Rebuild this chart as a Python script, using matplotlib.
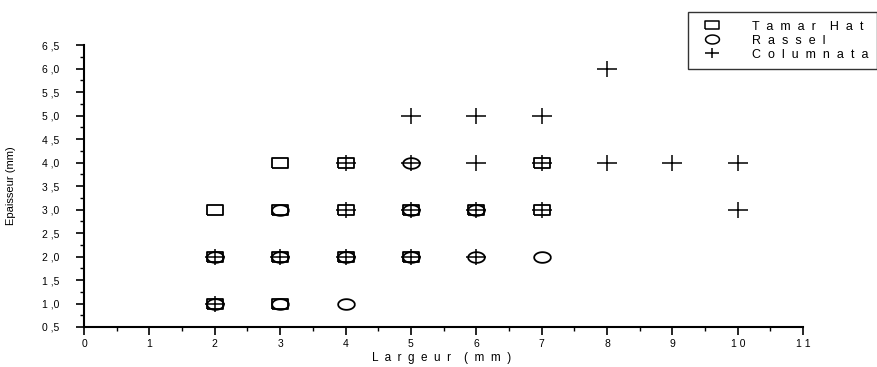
import numpy as np
import matplotlib.pyplot as plt
from matplotlib.path import Path
from matplotlib.ticker import MultipleLocator, FixedLocator

plt.rcParams['font.family'] = ['Liberation Sans', 'DejaVu Sans']

# Tamar Hat
tamar_x = [2, 3, 2, 3, 4, 5, 2, 3, 4, 5, 6, 7, 3, 4, 7]
tamar_y = [1, 1, 2, 2, 2, 2, 3, 3, 3, 3, 3, 3, 4, 4, 4]
# Rassel
rassel_x = [2, 3, 4, 2, 3, 4, 5, 6, 7, 3, 5, 6, 5]
rassel_y = [1, 1, 1, 2, 2, 2, 2, 2, 2, 3, 3, 3, 4]
# Columnata
colum_x = [2, 2, 3, 4, 5, 6, 4, 5, 6, 7, 10, 4, 5, 6, 7, 8, 9, 10, 5, 6, 7, 8]
colum_y = [1, 2, 2, 2, 2, 2, 3, 3, 3, 3, 3, 4, 4, 4, 4, 4, 4, 4, 5, 5, 5, 6]

x_ticks = list(range(0, 12))
x_labels = ["0", "1", "2", "3", "4", "5", "6", "7", "8", "9", "1 0", "1 1"]
y_ticks = [0.5, 1.0, 1.5, 2.0, 2.5, 3.0, 3.5, 4.0, 4.5, 5.0, 5.5, 6.0, 6.5]
y_labels = ["0 ,5", "1 ,0", "1 ,5", "2 ,0", "2 ,5", "3 ,0", "3 ,5",
            "4 ,0", "4 ,5", "5 ,0", "5 ,5", "6 ,0", "6 ,5"]

# custom markers: flat rectangle, flat ellipse, plus
rect = [(-0.5, -0.3), (0.5, -0.3), (0.5, 0.3), (-0.5, 0.3), (-0.5, -0.3)]
t = np.linspace(0, 2 * np.pi, 60)
ell = list(zip(0.5 * np.cos(t), 0.32 * np.sin(t)))
plus = Path([(-0.5, 0), (0.5, 0), (0, -0.38), (0, 0.38)],
            [Path.MOVETO, Path.LINETO, Path.MOVETO, Path.LINETO])

fig = plt.figure(figsize=(8.77, 3.67), dpi=100)
ax = fig.add_axes([0.0958, 0.109, 0.82, 0.768])

ax.plot(tamar_x, tamar_y, ls='none', marker=rect, ms=11.5, mfc='none',
        mec='black', mew=1.3, label="T  a  m  a  r    H  a  t")
ax.plot(rassel_x, rassel_y, ls='none', marker=ell, ms=12, mfc='none',
        mec='black', mew=1.3, label="R  a  s  s  e  l")
ax.plot(colum_x, colum_y, ls='none', marker=plus, ms=14.5, mfc='none',
        mec='black', mew=1.1, label="C  o  l  u  m  n  a  t  a")

ax.set_xlim(0, 11)
ax.set_ylim(0.5, 6.5)
ax.xaxis.set_major_locator(FixedLocator(x_ticks))
ax.set_xticklabels(x_labels)
ax.xaxis.set_minor_locator(MultipleLocator(0.5))
ax.yaxis.set_major_locator(FixedLocator(y_ticks))
ax.set_yticklabels(y_labels)
ax.yaxis.set_minor_locator(MultipleLocator(0.25))

for s in ['top', 'right']:
    ax.spines[s].set_visible(False)
for s in ['left', 'bottom']:
    ax.spines[s].set_linewidth(1.5)
ax.tick_params(which='major', direction='out', length=6, width=1.2,
               labelsize=7.5)
ax.tick_params(axis='y', which='major', pad=12)
ax.tick_params(axis='x', which='major', pad=3)
ax.tick_params(which='minor', direction='out', length=3, width=1.0)

ax.set_xlabel("L  a  r  g  e  u  r    (  m  m  )", fontsize=8.5)
ax.xaxis.set_label_coords(0.497, -0.09)
ax.set_ylabel("Epaisseur (mm)", fontsize=8)
ax.yaxis.set_label_coords(-0.095, 0.5)

leg = fig.legend(loc='upper right', bbox_to_anchor=(1.0, 0.967), fontsize=9,
                 frameon=True, fancybox=False, handlelength=2.4,
                 borderpad=0.7, labelspacing=0.15, handletextpad=2.0,
                 borderaxespad=0.0)
leg.get_frame().set_edgecolor('black')
leg.get_frame().set_linewidth(1.0)
for h in leg.legend_handles:
    h.set_markersize(10)
    h.set_markeredgewidth(1.1)

fig.savefig("out.png", dpi=100)
